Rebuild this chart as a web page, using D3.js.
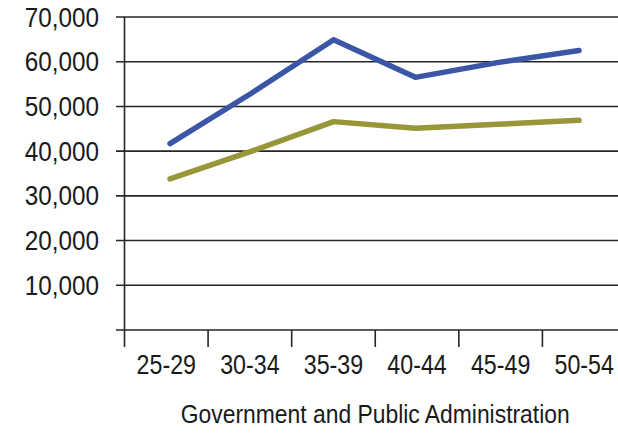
<!DOCTYPE html>
<html>
<head>
<meta charset="utf-8">
<script src="https://cdn.jsdelivr.net/npm/d3@7"></script>
<style>
  html, body { margin: 0; padding: 0; background: #fff; }
  svg { display: block; }
  text { font-family: "Liberation Sans", Arial, sans-serif; fill: #1a1a1a; }
</style>
</head>
<body>
<div id="chart"></div>
<script>
const categories = ["25-29", "30-34", "35-39", "40-44", "45-49", "50-54"];
const seriesBlue = [41700, 53000, 64900, 56500, 59800, 62500];
const seriesOlive = [33800, 40000, 46600, 45100, 46000, 46900];
const yTicks = [10000, 20000, 30000, 40000, 50000, 60000, 70000];
const xTitle = "Government and Public Administration";

const W = 618, H = 434;
const svg = d3.select("#chart").append("svg").attr("width", W).attr("height", H);

const plotLeft = 124.5, plotRight = 626, plotTop = 17, plotBottom = 330;

const x = d3.scaleBand().domain(categories).range([plotLeft, plotRight]).padding(0);
const xp = d3.scalePoint().domain(categories).range([170, 579]);
const y = d3.scaleLinear().domain([0, 70000]).range([plotBottom, plotTop]);

// gridlines + y ticks
const fmt = d3.format(",");
svg.append("g").selectAll("line").data([0].concat(yTicks)).join("line")
  .attr("x1", 116).attr("x2", plotRight)
  .attr("y1", d => y(d)).attr("y2", d => y(d))
  .attr("stroke", "#262626").attr("stroke-width", 1.6);

svg.append("g").selectAll("text").data(yTicks).join("text")
  .attr("transform", d => `translate(99,${y(d) + 9.5}) scale(0.9,1)`)
  .attr("text-anchor", "end")
  .attr("font-size", 27)
  .text(d => fmt(d));

// y axis line
svg.append("line").attr("x1", plotLeft).attr("x2", plotLeft).attr("y1", plotTop).attr("y2", plotBottom + 17)
  .attr("stroke", "#262626").attr("stroke-width", 1.6);

// x ticks between categories
const tickXs = categories.slice(1).map(c => x(c));
svg.append("g").selectAll("line").data(tickXs).join("line")
  .attr("x1", d => d).attr("x2", d => d)
  .attr("y1", plotBottom).attr("y2", plotBottom + 17)
  .attr("stroke", "#262626").attr("stroke-width", 1.6);

svg.append("g").selectAll("text").data(categories).join("text")
  .attr("transform", d => `translate(${x(d) + x.bandwidth() / 2},374) scale(0.86,1)`)
  .attr("text-anchor", "middle")
  .attr("font-size", 27)
  .text(d => d);

svg.append("text")
  .attr("transform", `translate(${(plotLeft + plotRight) / 2},423) scale(0.88,1)`)
  .attr("text-anchor", "middle")
  .attr("font-size", 26)
  .text(xTitle);

const line = d3.line().x((d, i) => xp(categories[i])).y(d => y(d));

svg.append("path").datum(seriesOlive)
  .attr("d", line).attr("fill", "none")
  .attr("stroke", "#979639").attr("stroke-width", 5.5)
  .attr("stroke-linecap", "round").attr("stroke-linejoin", "round");

svg.append("path").datum(seriesBlue)
  .attr("d", line).attr("fill", "none")
  .attr("stroke", "#3b56a6").attr("stroke-width", 5.5)
  .attr("stroke-linecap", "round").attr("stroke-linejoin", "round");
</script>
</body>
</html>
